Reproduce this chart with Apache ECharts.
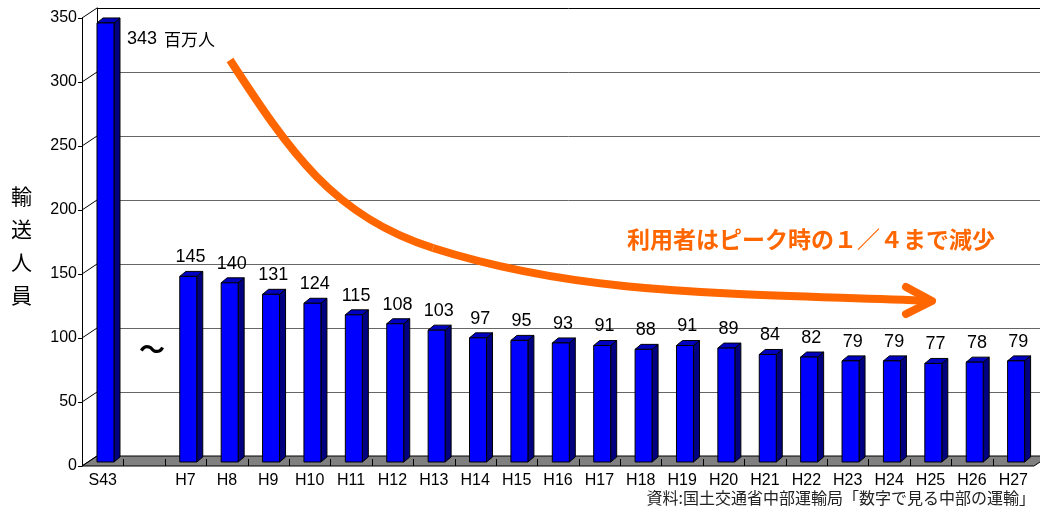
<!DOCTYPE html>
<html>
<head>
<meta charset="utf-8">
<script src="https://cdn.jsdelivr.net/npm/echarts@6/dist/echarts.min.js"></script>
<style>
html, body { margin: 0; padding: 0; background: #fff; }
#main { width: 1040px; height: 511px; }
</style>
</head>
<body>
<div id="main"></div>
<script>
// 年度（S43 の後は省略）
var categories = ['S43', '', 'H7', 'H8', 'H9', 'H10', 'H11', 'H12', 'H13', 'H14', 'H15', 'H16',
    'H17', 'H18', 'H19', 'H20', 'H21', 'H22', 'H23', 'H24', 'H25', 'H26', 'H27'];
// 輸送人員（百万人）
var values = [343, null, 145, 140, 131, 124, 115, 108, 103, 97, 95, 93,
    91, 88, 91, 89, 84, 82, 79, 79, 77, 78, 79];
var yTicks = [0, 50, 100, 150, 200, 250, 300, 350];

var FONT = '"Liberation Sans", "Noto Sans CJK JP", sans-serif';
var DX = 15, DY = 10;      // 奥行き（床・壁）
var BX = 6, BY = 5;        // 奥行き（棒）

var chart = echarts.init(document.getElementById('main'));

// 床
function renderFloor(params, api) {
    var cs = params.coordSys;
    var x0 = cs.x, x1 = cs.x + cs.width, yb = cs.y + cs.height;
    var band = cs.width / categories.length;
    var children = [{
        type: 'polygon',
        shape: { points: [[x0, yb], [x0 + DX, yb - DY], [x1 + DX, yb - DY], [x1, yb]] },
        style: { fill: '#808080', stroke: '#000', lineWidth: 1 }
    }];
    for (var i = 1; i < categories.length; i++) {
        var bx = Math.round(x0 + i * band) + 0.5;
        children.push({
            type: 'line',
            shape: { x1: bx, y1: yb, x2: bx, y2: yb - 7 },
            style: { stroke: '#000', lineWidth: 1 }
        });
    }
    return { type: 'group', children: children };
}

// 目盛りから奥の壁への斜線
function renderTickLinks(params, api) {
    var cs = params.coordSys;
    var p = api.coord([0, api.value(1)]);
    return {
        type: 'line',
        shape: { x1: cs.x, y1: p[1], x2: cs.x + DX, y2: p[1] - DY },
        style: { stroke: '#000', lineWidth: 1 }
    };
}

// 立体の棒
function renderBar(params, api) {
    var idx = params.dataIndex;
    var v = values[idx];
    if (v == null) return;
    var p = api.coord([idx, v]);
    var b = api.coord([idx, 0]);
    var cx = p[0];
    var top = p[1] - 4, bot = b[1] - 4;
    var fl = cx - 5.7, fr = cx + 11.3;
    var children = [
        {
            type: 'polygon',
            shape: { points: [[fr, top], [fr + BX, top - BY], [fr + BX, bot - BY], [fr, bot]] },
            style: { fill: '#000080', stroke: '#000', lineWidth: 1 }
        },
        {
            type: 'polygon',
            shape: { points: [[fl, top], [fl + BX, top - BY], [fr + BX, top - BY], [fr, top]] },
            style: { fill: '#0000C0', stroke: '#000', lineWidth: 1 }
        },
        {
            type: 'rect',
            shape: { x: fl, y: top, width: fr - fl, height: bot - top },
            style: { fill: '#0000FF', stroke: '#000', lineWidth: 1 }
        }
    ];
    if (idx === 0) {
        children.push({
            type: 'text',
            style: { text: String(v), x: fr + 13, y: top + 16, fill: '#000',
                font: '18px ' + FONT, align: 'left', verticalAlign: 'middle' }
        });
        children.push({
            type: 'text',
            style: { text: '百万人', x: fr + 50, y: top + 17, fill: '#000',
                font: '17px "Noto Sans CJK JP", sans-serif', align: 'left', verticalAlign: 'middle' }
        });
    } else {
        children.push({
            type: 'text',
            style: { text: String(v), x: cx + 5, y: top - 19, fill: '#000',
                font: '18px ' + FONT, align: 'center', verticalAlign: 'middle' }
        });
    }
    return { type: 'group', children: children };
}

var option = {
    animation: false,
    backgroundColor: '#fff',
    grid: [
        { left: 82, top: 18, width: 952, height: 448 },   // 手前
        { left: 97, top: 8, width: 943, height: 448 }     // 奥の壁
    ],
    xAxis: [
        {
            gridIndex: 0, type: 'category', data: categories,
            axisLine: { show: false }, axisTick: { show: false },
            axisLabel: { fontSize: 16, color: '#000', fontFamily: FONT, margin: 7, interval: 0 }
        },
        { gridIndex: 1, type: 'category', data: categories, show: false }
    ],
    yAxis: [
        {
            gridIndex: 0, type: 'value', min: 0, max: 350, interval: 50,
            axisLine: { show: true, lineStyle: { color: '#000', width: 1 } },
            axisTick: { show: true, length: 4, lineStyle: { color: '#000' } },
            axisLabel: { fontSize: 16, color: '#000', fontFamily: FONT, margin: 5 },
            splitLine: { show: false }
        },
        {
            gridIndex: 1, type: 'value', min: 0, max: 350, interval: 50,
            axisLine: { show: true, lineStyle: { color: '#000', width: 1 } },
            axisTick: { show: false }, axisLabel: { show: false },
            splitLine: { show: true, lineStyle: { color: ['#666', '#666', '#666', '#666', '#666', '#666', '#666', '#000'], width: 1 } }
        }
    ],
    series: [
        {
            type: 'custom', xAxisIndex: 0, yAxisIndex: 0, z: 1,
            renderItem: renderFloor, data: [[0, 0]], silent: true
        },
        {
            type: 'custom', xAxisIndex: 0, yAxisIndex: 0, z: 2,
            renderItem: renderTickLinks,
            data: yTicks.map(function (t) { return [0, t]; }), silent: true
        },
        {
            type: 'custom', xAxisIndex: 0, yAxisIndex: 0, z: 3,
            renderItem: renderBar,
            data: values.map(function (v, i) { return [i, v == null ? 0 : v]; })
        }
    ],
    graphic: [
        {
            type: 'bezierCurve', z: 10,
            shape: { x1: 230, y1: 60, cpx1: 290, cpy1: 152, cpx2: 333, cpy2: 216, x2: 433, y2: 248 },
            style: { stroke: '#FF6600', lineWidth: 8, fill: null, lineCap: 'butt' }
        },
        {
            type: 'bezierCurve', z: 10,
            shape: { x1: 433, y1: 248, cpx1: 583, cpy1: 296, cpx2: 730, cpy2: 293, x2: 930, y2: 301 },
            style: { stroke: '#FF6600', lineWidth: 8, fill: null, lineCap: 'butt' }
        },
        {
            type: 'polyline', z: 10,
            shape: { points: [[906, 287], [932, 301], [906, 314]] },
            style: { stroke: '#FF6600', lineWidth: 8, fill: null, lineCap: 'round', lineJoin: 'round' }
        },
        {
            type: 'text', z: 10, left: 627, top: 228,
            style: { text: '利用者はピーク時の１／４まで減少', fill: '#FF6600',
                font: 'bold 23px "Noto Sans CJK JP", sans-serif' }
        },
        {
            type: 'text', z: 10, left: 139, top: 336,
            style: { text: '～', fill: '#000', font: 'bold 26px "Noto Sans CJK JP", sans-serif' }
        },
        {
            type: 'text', z: 10, left: 11, top: 180,
            style: { text: '輸\n送\n人\n員', fill: '#000', lineHeight: 33,
                font: '21px "Noto Sans CJK JP", sans-serif' }
        },
        {
            type: 'text', z: 10, right: 5, top: 490,
            style: { text: '資料:国土交通省中部運輸局「数字で見る中部の運輸」', fill: '#222',
                font: '16px "Noto Sans CJK JP", sans-serif' }
        }
    ]
};

chart.setOption(option);
</script>
</body>
</html>
